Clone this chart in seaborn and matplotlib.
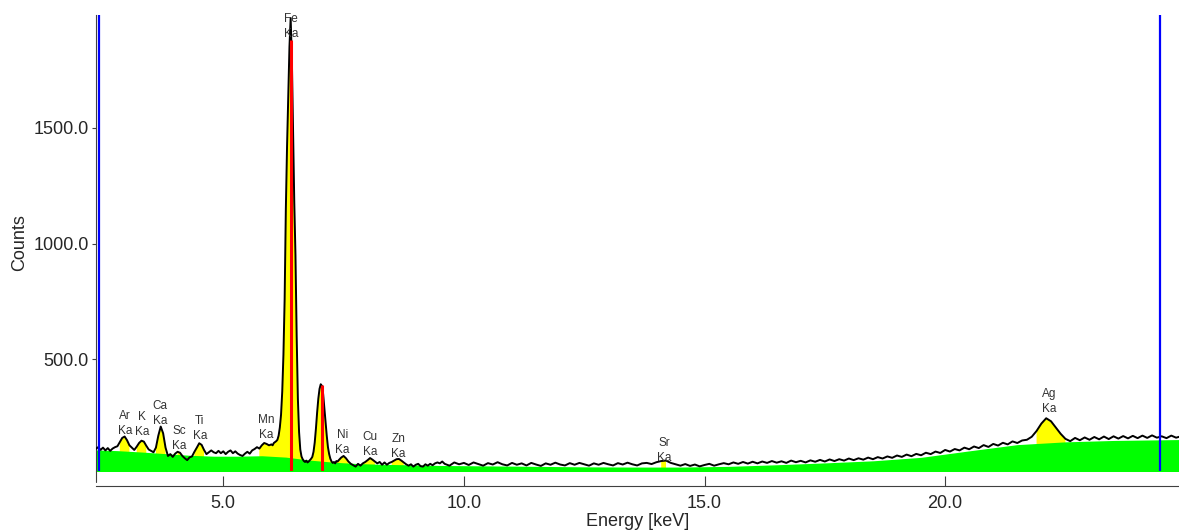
import numpy as np
import pandas as pd
import matplotlib
matplotlib.use("Agg")
import matplotlib.pyplot as plt
import matplotlib.ticker as mticker
import seaborn as sns

# ------------------------------------------------------------------
# Spectrum
# ------------------------------------------------------------------
ENERGY = [
    2.35, 2.40, 2.45, 2.50, 2.55, 2.60, 2.65, 2.70, 2.75, 2.80,
    2.85, 2.90, 2.95, 3.00, 3.05, 3.10, 3.15, 3.20, 3.25, 3.30,
    3.35, 3.40, 3.45, 3.50, 3.55, 3.60, 3.65, 3.70, 3.75, 3.80,
    3.85, 3.90, 3.95, 4.00, 4.05, 4.10, 4.15, 4.20, 4.25, 4.30,
    4.35, 4.40, 4.45, 4.50, 4.55, 4.60, 4.65, 4.70, 4.75, 4.80,
    4.85, 4.90, 4.95, 5.00, 5.05, 5.10, 5.15, 5.20, 5.25, 5.30,
    5.35, 5.40, 5.45, 5.50, 5.55, 5.60, 5.65, 5.70, 5.75, 5.80,
    5.85, 5.90, 5.95,
    6.000, 6.025, 6.050, 6.075, 6.100, 6.125, 6.150, 6.175, 6.200, 6.225,
    6.250, 6.275, 6.300, 6.325, 6.350, 6.375, 6.400, 6.425, 6.450, 6.475,
    6.500, 6.525, 6.550, 6.575, 6.600, 6.625, 6.650, 6.675, 6.700, 6.725,
    6.750, 6.775, 6.800, 6.825, 6.850, 6.875, 6.900, 6.925, 6.950, 6.975,
    7.000, 7.025, 7.050, 7.075, 7.100, 7.125, 7.150, 7.175, 7.200, 7.225,
    7.250, 7.275, 7.300, 7.325, 7.350, 7.375, 7.400,
    7.45, 7.50, 7.55, 7.60, 7.65, 7.70, 7.75, 7.80, 7.85, 7.90,
    7.95, 8.00, 8.05, 8.10, 8.15, 8.20, 8.25, 8.30, 8.35, 8.40,
    8.45, 8.50, 8.55, 8.60, 8.65, 8.70, 8.75, 8.80, 8.85, 8.90,
    8.95, 9.00, 9.05, 9.10, 9.15, 9.20, 9.25, 9.30, 9.35, 9.40,
    9.45, 9.50, 9.55,
    9.6, 9.7, 9.8, 9.9, 10.0, 10.1, 10.2, 10.3, 10.4, 10.5,
    10.6, 10.7, 10.8, 10.9, 11.0, 11.1, 11.2, 11.3, 11.4, 11.5,
    11.6, 11.7, 11.8, 11.9, 12.0, 12.1, 12.2, 12.3, 12.4, 12.5,
    12.6, 12.7, 12.8, 12.9, 13.0, 13.1, 13.2, 13.3, 13.4, 13.5,
    13.6, 13.7, 13.8, 13.9, 14.0, 14.1, 14.2, 14.3, 14.4, 14.5,
    14.6, 14.7, 14.8, 14.9, 15.0, 15.1, 15.2, 15.3, 15.4, 15.5,
    15.6, 15.7, 15.8, 15.9, 16.0, 16.1, 16.2, 16.3, 16.4, 16.5,
    16.6, 16.7, 16.8, 16.9, 17.0, 17.1, 17.2, 17.3, 17.4, 17.5,
    17.6, 17.7, 17.8, 17.9, 18.0, 18.1, 18.2, 18.3, 18.4, 18.5,
    18.6, 18.7, 18.8, 18.9, 19.0, 19.1, 19.2, 19.3, 19.4, 19.5,
    19.6, 19.7, 19.8, 19.9, 20.0, 20.1, 20.2, 20.3, 20.4, 20.5,
    20.6, 20.7, 20.8, 20.9, 21.0, 21.1, 21.2, 21.3, 21.4, 21.5,
    21.6, 21.7, 21.8, 21.9, 22.0, 22.1, 22.2, 22.3, 22.4, 22.5,
    22.6, 22.7, 22.8, 22.9, 23.0, 23.1, 23.2, 23.3, 23.4, 23.5,
    23.6, 23.7, 23.8, 23.9, 24.0, 24.1, 24.2, 24.3, 24.4, 24.5,
    24.6, 24.7, 24.8, 24.9,
]
COUNTS = [
    112, 120, 108, 118, 106, 116, 104, 114, 120, 124,
    142, 160, 166, 150, 128, 118, 108, 122, 138, 148,
    144, 126, 110, 104, 98, 118, 170, 209, 180, 118,
    82, 90, 78, 92, 100, 96, 82, 72, 64, 76,
    80, 100, 118, 137, 130, 108, 90, 98, 106, 98,
    94, 104, 94, 102, 90, 100, 106, 94, 102, 92,
    86, 82, 92, 100, 92, 106, 112, 120, 114, 128,
    138, 134, 128,
    132, 128, 138, 142, 146, 152, 170, 205, 260, 360,
    520, 760, 1150, 1420, 1640, 1850, 1975, 1800, 1480, 1180,
    950, 600, 330, 185, 110, 80, 68, 60, 56, 62,
    54, 58, 64, 70, 78, 100, 140, 200, 270, 330,
    372, 392, 385, 350, 290, 230, 170, 120, 90, 70,
    58, 52, 56, 50, 60, 58, 64,
    75, 82, 72, 58, 48, 42, 36, 48, 40, 50,
    56, 64, 73, 66, 58, 50, 56, 44, 54, 44,
    52, 56, 62, 68, 69, 62, 54, 46, 40, 46,
    36, 44, 48, 38, 36, 46, 40, 48, 42, 50,
    54, 50, 58,
    48, 40, 54, 46, 52, 43, 54, 47, 40, 51,
    45, 55, 46, 41, 52, 44, 50, 41, 52, 45,
    39, 50, 44, 53, 45, 41, 51, 44, 52, 46,
    40, 50, 44, 52, 46, 41, 51, 45, 53, 46,
    41, 50, 52, 47, 55, 60, 62, 52, 46, 40,
    47, 39, 45, 37, 43, 48, 40, 46, 51, 46,
    54, 48, 56, 49, 57, 50, 58, 52, 60, 53,
    59, 52, 62, 55, 61, 54, 63, 57, 65, 58,
    67, 60, 68, 62, 71, 64, 72, 66, 75, 68,
    77, 71, 80, 74, 84, 78, 88, 81, 91, 85,
    96, 90, 101, 95, 108, 101, 112, 106, 118, 111,
    123, 116, 129, 121, 134, 127, 139, 132, 145, 138,
    149, 152, 165, 190, 222, 245, 232, 205, 178, 156,
    146, 160, 150, 162, 152, 164, 154, 166, 155, 167,
    157, 168, 158, 169, 159, 170, 160, 171, 161, 167,
    159, 170, 161, 167,
]

# continuum (green)
BG_ENERGY = [2.35, 2.8, 3.3, 3.8, 4.3, 4.8, 5.3, 5.8, 6.3, 6.8, 7.3, 7.8, 8.3, 8.8,
             9.5, 10.5, 11.5, 12.5, 13.5, 14.5, 15.5, 16.5, 17.5, 18.5, 19.5,
             20.5, 21.5, 22.5, 23.5, 24.9]
BG_COUNTS = [108, 105, 99, 92, 85, 81, 81, 83, 77, 64, 55, 49, 46, 44,
             41, 39, 37, 35, 34, 34, 37, 44, 52, 61, 76,
             104, 131, 143, 149, 153]

# identified lines
ELEMENTS = ["Ar", "K", "Ca", "Sc", "Ti", "Mn", "Fe", "Ni", "Cu", "Zn", "Sr", "Ag"]
ELEMENT_KEV = [2.957, 3.313, 3.691, 4.090, 4.510, 5.898, 6.403, 7.477, 8.047, 8.638, 14.165, 22.163]
LABEL_COUNTS = [164, 160, 207, 99, 143, 147, 1880, 82, 73, 65, 48, 259]

# yellow peak areas (centre, half width in keV)
PEAK_KEV = [2.957, 3.313, 3.691, 4.090, 4.510, 5.898, 6.403, 7.058, 7.477, 8.047, 8.638, 14.165, 22.163]
PEAK_HALF = [0.13, 0.12, 0.13, 0.08, 0.13, 0.15, 0.38, 0.25, 0.15, 0.15, 0.15, 0.12, 0.35]

# red markers and blue ROI limits
MARKER_KEV = [6.403, 7.058]
MARKER_COUNTS = [1880, 389]
ROI_KEV = [2.42, 24.46]

sns.set_style("white")
plt.rcParams["font.family"] = ["Liberation Sans", "DejaVu Sans"]

fig = plt.figure(figsize=(11.79, 5.31), dpi=100)
ax = fig.add_axes([96 / 1179, 60 / 531, 1083 / 1179, 456 / 531])

df = pd.DataFrame({"Energy": ENERGY, "Counts": COUNTS})
in_peak = np.zeros(len(df), dtype=bool)
for c, w in zip(PEAK_KEV, PEAK_HALF):
    in_peak |= (df["Energy"] - c).abs().to_numpy() <= w

ax.fill_between(df["Energy"], 0, df["Counts"], where=in_peak, color="#ffff00", lw=0, zorder=1)
ax.fill_between(BG_ENERGY, 0, BG_COUNTS, color="#00ff00", lw=0, zorder=2)
sns.lineplot(data=df, x="Energy", y="Counts", color="black", lw=1.4,
             sort=False, estimator=None, ax=ax, zorder=3)
ax.vlines(MARKER_KEV, 0, MARKER_COUNTS, colors="#ff0000", lw=2.2, zorder=4)
for e in ROI_KEV:
    ax.axvline(e, color="#0000ff", lw=1.6, zorder=5)

for name, e, h in zip(ELEMENTS, ELEMENT_KEV, LABEL_COUNTS):
    ax.text(e, h, f"{name}\nKa", ha="center", va="bottom", fontsize=8.5,
            color="#333333", linespacing=1.3, zorder=6)

ax.set_xlim(2.355, 24.86)
ax.set_ylim(17, 1988)
ax.set_xticks([5, 10, 15, 20])
ax.set_yticks([500, 1000, 1500])
ax.xaxis.set_major_formatter(mticker.FormatStrFormatter("%.1f"))
ax.yaxis.set_major_formatter(mticker.FormatStrFormatter("%.1f"))

for s in ["top", "right"]:
    ax.spines[s].set_visible(False)
ax.spines["bottom"].set_position(("outward", 11))
ax.spines["bottom"].set_color("#404040")
ax.spines["left"].set_color("#404040")
ax.plot([0, 0], [-11 / 456, 0], transform=ax.transAxes, color="#404040",
        lw=0.8, clip_on=False)

ax.tick_params(axis="x", direction="in", length=7.5, width=0.8, color="#404040",
               labelsize=13, pad=6, bottom=True)
ax.tick_params(axis="y", direction="out", length=3, width=0.8, color="#404040",
               labelsize=13, pad=2, left=True)
ax.set_xlabel("Energy [keV]", fontsize=13, labelpad=1)
ax.set_ylabel("Counts", fontsize=13, labelpad=4)

fig.savefig("out.png", dpi=100)
